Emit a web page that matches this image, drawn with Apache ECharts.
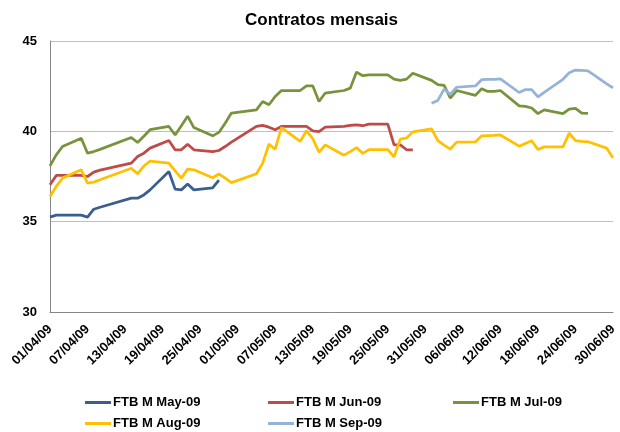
<!DOCTYPE html>
<html>
<head>
<meta charset="utf-8">
<script src="https://cdn.jsdelivr.net/npm/echarts@6/dist/echarts.min.js"></script>
<style>
html,body{margin:0;padding:0;background:#fff;}
#chart{width:620px;height:432px;}
</style>
</head>
<body>
<div id="chart"></div>
<script>
// Trading days with prices
const tradeDays = [
  '01/04/09','02/04/09','03/04/09','06/04/09','07/04/09','08/04/09','09/04/09','14/04/09','15/04/09','16/04/09',
  '17/04/09','20/04/09','21/04/09','22/04/09','23/04/09','24/04/09','27/04/09','28/04/09','29/04/09','30/04/09',
  '04/05/09','05/05/09','06/05/09','07/05/09','08/05/09','11/05/09','12/05/09','13/05/09','14/05/09','15/05/09',
  '18/05/09','19/05/09','20/05/09','21/05/09','22/05/09','25/05/09','26/05/09','27/05/09','28/05/09','29/05/09',
  '01/06/09','02/06/09','03/06/09','04/06/09','05/06/09','08/06/09','09/06/09','10/06/09','11/06/09','12/06/09',
  '15/06/09','16/06/09','17/06/09','18/06/09','19/06/09','22/06/09','23/06/09','24/06/09','25/06/09','26/06/09',
  '29/06/09','30/06/09'
];
const seriesNames = ['FTB M May-09','FTB M Jun-09','FTB M Jul-09','FTB M Aug-09','FTB M Sep-09'];
const may09 = [
  35.25,35.36,35.36,35.36,35.25,35.69,35.80,36.30,36.30,36.48,
  36.76,37.78,36.80,36.76,37.08,36.76,36.87,37.30,null,null,
  null,null,null,null,null,null,null,null,null,null,
  null,null,null,null,null,null,null,null,null,null,
  null,null,null,null,null,null,null,null,null,null,
  null,null,null,null,null,null,null,null,null,null,
  null,null
];
const jun09 = [
  37.04,37.56,37.56,37.56,37.50,37.74,37.85,38.24,38.61,38.79,
  39.07,39.49,38.98,38.98,39.29,38.98,38.88,38.94,39.16,39.40,
  40.27,40.33,40.23,40.09,40.27,40.27,40.27,40.03,39.99,40.23,
  40.27,40.33,40.36,40.31,40.40,40.40,39.25,39.25,38.98,38.98,
  null,null,null,null,null,null,null,null,null,null,
  null,null,null,null,null,null,null,null,null,null,
  null,null
];
const jul09 = [
  38.09,38.70,39.16,39.62,38.79,38.88,39.00,39.66,39.38,39.73,
  40.09,40.27,39.80,40.31,40.84,40.21,39.75,39.94,40.45,41.01,
  41.19,41.65,41.47,41.93,42.26,42.26,42.52,42.52,41.65,42.12,
  42.26,42.39,43.28,43.08,43.13,43.13,42.89,42.82,42.89,43.22,
  42.82,42.58,42.54,41.84,42.26,41.99,42.36,42.21,42.21,42.26,
  41.41,41.38,41.29,40.98,41.19,40.98,41.23,41.27,41.01,41.00,
  null,null
];
const aug09 = [
  36.39,36.95,37.41,37.87,37.13,37.19,37.32,37.96,37.65,38.08,
  38.35,38.24,37.81,37.41,37.91,37.87,37.43,37.64,37.41,37.16,
  37.65,38.24,39.29,39.01,40.20,39.44,40.03,39.60,38.84,39.25,
  38.68,38.88,39.10,38.78,38.99,38.99,38.59,39.57,39.63,39.97,
  40.14,39.49,39.24,39.02,39.40,39.41,39.75,39.76,39.77,39.80,
  39.18,39.33,39.48,38.99,39.14,39.14,39.90,39.49,39.44,39.42,
  39.07,38.53
];
const sep09 = [
  null,null,null,null,null,null,null,null,null,null,
  null,null,null,null,null,null,null,null,null,null,
  null,null,null,null,null,null,null,null,null,null,
  null,null,null,null,null,null,null,null,null,null,
  41.55,41.71,42.34,42.04,42.44,42.51,42.86,42.87,42.87,42.90,
  42.15,42.31,42.31,41.91,42.16,42.88,43.24,43.39,43.37,43.35,
  42.63,42.40
];
const yTicks = [30,35,40,45];
const colors = ['#3A5F8F','#BE4B48','#77933C','#FFC000','#95B3D7'];

// calendar axis: every day from 01/04/09 to 30/06/09
const calendar = [];
const monthDays = [[4,30],[5,31],[6,30]];
monthDays.forEach(([m,n])=>{
  for(let d=1; d<=n; d++){
    calendar.push(String(d).padStart(2,'0')+'/'+String(m).padStart(2,'0')+'/09');
  }
});
function toCalendar(vals){
  const map = {};
  tradeDays.forEach((t,i)=>{ map[t]=vals[i]; });
  return calendar.map(c => (c in map) ? map[c] : null);
}
const allVals = [may09,jun09,jul09,aug09,sep09];

const FONT = 'Liberation Sans, Arial, sans-serif';
const legendPos = [[85,396],[268,396],[453,396],[85,417],[268,417]];
const chart = echarts.init(document.getElementById('chart'), null, {renderer:'canvas'});
chart.setOption({
  animation:false,
  backgroundColor:'#ffffff',
  title:{
    text:'Contratos mensais', left:240, top:7,
    textStyle:{fontFamily:FONT, fontWeight:'bold', fontSize:17, color:'#000'}
  },
  grid:{left:50, right:7, top:41, bottom:120},
  legend: seriesNames.map((n,i)=>({
    data:[n], left:legendPos[i][0], top:legendPos[i][1], itemGap:0,
    itemWidth:26, itemHeight:3, icon:'rect', selectedMode:false, padding:0,
    textStyle:{fontFamily:FONT, fontWeight:'bold', fontSize:13, color:'#000', padding:[0,0,0,-3]}
  })),
  xAxis:{
    type:'category', data:calendar, boundaryGap:false,
    axisLine:{lineStyle:{color:'#868686', width:1}},
    axisTick:{show:false},
    axisLabel:{
      interval:5, rotate:45, margin:15,
      fontFamily:FONT, fontWeight:'bold', fontSize:13, color:'#000'
    },
    splitLine:{show:false}
  },
  yAxis:{
    type:'value', min:yTicks[0], max:yTicks[yTicks.length-1], interval:5,
    axisLine:{show:true, lineStyle:{color:'#868686', width:1}},
    axisTick:{show:false},
    axisLabel:{margin:13, fontFamily:FONT, fontWeight:'bold', fontSize:13, color:'#000'},
    splitLine:{show:true, lineStyle:{color:'#BFBFBF', width:1}}
  },
  series: seriesNames.map((name,i)=>({
    name:name, type:'line', data:toCalendar(allVals[i]),
    showSymbol:false, symbol:'none', connectNulls:true,
    lineStyle:{width:2.75, color:colors[i]},
    itemStyle:{color:colors[i]}
  }))
});
</script>
</body>
</html>
